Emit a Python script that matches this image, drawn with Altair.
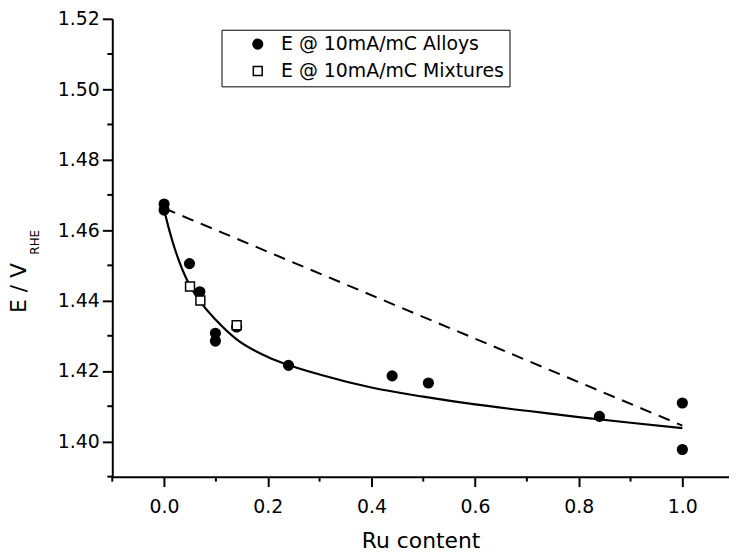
import altair as alt
import pandas as pd

# ---- data ----
series_names = ["E @ 10mA/mC Alloys", "E @ 10mA/mC Mixtures"]
alloy_x = [0.0, 0.0, 0.049, 0.069, 0.099, 0.099, 0.14, 0.24, 0.44, 0.51, 0.84, 1.0, 1.0]
alloy_y = [1.4674, 1.4657, 1.4505, 1.4425, 1.4307, 1.4285, 1.4325, 1.4216, 1.4186,
           1.4166, 1.4071, 1.4109, 1.3977]
mix_x = [0.05, 0.07, 0.14]
mix_y = [1.4440, 1.4400, 1.4330]
fit_x = [0.0, 0.01, 0.02, 0.03, 0.04, 0.05, 0.07, 0.10, 0.14, 0.20, 0.24, 0.30, 0.40,
         0.50, 0.60, 0.70, 0.80, 0.90, 1.00]
fit_y = [1.4658, 1.4600, 1.4550, 1.4508, 1.4472, 1.4442, 1.4396, 1.4345, 1.4290, 1.4240,
         1.4217, 1.4190, 1.4153, 1.4127, 1.4105, 1.4087, 1.4069, 1.4053, 1.4038]
lin_x = [0.0, 1.0]
lin_y = [1.4662, 1.4045]
x_major = [0.0, 0.2, 0.4, 0.6, 0.8, 1.0]
x_minor = [-0.1, 0.1, 0.3, 0.5, 0.7, 0.9]
y_major = [1.40, 1.42, 1.44, 1.46, 1.48, 1.50, 1.52]
y_minor = [1.39, 1.41, 1.43, 1.45, 1.47, 1.49, 1.51]

W, H = 621, 461
FONT = "DejaVu Sans"

pts = pd.DataFrame({
    "x": alloy_x + mix_x,
    "y": alloy_y + mix_y,
    "series": [series_names[0]] * len(alloy_x) + [series_names[1]] * len(mix_x),
})
fit = pd.DataFrame({"x": fit_x, "y": fit_y})
lin = pd.DataFrame({"x": lin_x, "y": lin_y})
xmin = pd.DataFrame({"x": x_minor})
ymin = pd.DataFrame({"y": y_minor})
one = pd.DataFrame({"a": [0]})

xs = alt.Scale(domain=[-0.1, 1.09], nice=False, zero=False)
ys = alt.Scale(domain=[1.39, 1.52], nice=False, zero=False)

xaxis = alt.Axis(values=x_major, format=".1f", title="Ru content", labelFontSize=19,
                 titleFontSize=22, labelPadding=11, titlePadding=14, titleFontWeight="normal")
yaxis = alt.Axis(values=y_major, format=".2f", title=None, labelFontSize=19, labelPadding=3)

leg = alt.Legend(title=None, orient="none", legendX=110, legendY=11, strokeColor="black",
                 fillColor="white", padding=5, labelFontSize=19, labelFont=FONT,
                 symbolStrokeWidth=1.5, symbolStrokeColor="black", rowPadding=7, labelOffset=14,
                 labelLimit=600, symbolOffset=22)

X = alt.X("x:Q", scale=xs, axis=xaxis)
Y = alt.Y("y:Q", scale=ys, axis=yaxis)

points = alt.Chart(pts).mark_point(filled=True, strokeWidth=1.5, opacity=1).encode(
    x=X, y=Y,
    shape=alt.Shape("series:N", scale=alt.Scale(domain=series_names, range=["circle", "square"]), legend=leg),
    fill=alt.Fill("series:N", scale=alt.Scale(domain=series_names, range=["black", "white"]), legend=leg),
    stroke=alt.Stroke("series:N", scale=alt.Scale(domain=series_names, range=["black", "black"]), legend=leg),
    size=alt.Size("series:N", scale=alt.Scale(domain=series_names, range=[95, 80]), legend=leg),
)

fit_line = alt.Chart(fit).mark_line(color="black", strokeWidth=2.2, interpolate="monotone").encode(x=X, y=Y)
dash_line = alt.Chart(lin).mark_line(color="black", strokeWidth=2, strokeDash=[12, 8]).encode(x=X, y=Y)

xminor = alt.Chart(xmin).mark_rule(color="black", strokeWidth=2).encode(
    x=X, y=alt.value(H), y2=alt.value(H + 5))
yminor = alt.Chart(ymin).mark_rule(color="black", strokeWidth=2).encode(
    y=Y, x=alt.value(0), x2=alt.value(-5))

ytitle = alt.Chart(one).mark_text(text="E / V", angle=270, fontSize=22, font=FONT,
                                  align="center", baseline="middle", color="black").encode(
    x=alt.value(-94), y=alt.value(271))
ysub = alt.Chart(one).mark_text(text="RHE", angle=270, fontSize=12, font=FONT,
                                align="center", baseline="middle", color="black").encode(
    x=alt.value(-78), y=alt.value(225))

chart = alt.layer(dash_line, fit_line, points, xminor, yminor, ytitle, ysub).properties(
    width=W, height=H,
    padding={"left": 105, "top": 9, "right": 0, "bottom": 76},
    autosize=alt.AutoSizeParams(type="none"),
    background="white",
).configure_view(strokeWidth=0, stroke="transparent").configure_axis(
    grid=False, domainColor="black", domainWidth=2, tickColor="black", tickWidth=2,
    tickSize=10, labelColor="black", titleColor="black", labelFont=FONT, titleFont=FONT,
)

chart.save("out.html", embed_options={"renderer": "svg", "actions": False})
